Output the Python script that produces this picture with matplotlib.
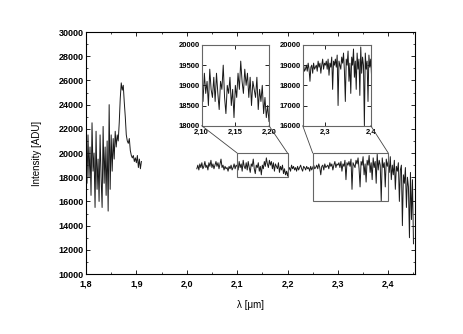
import numpy as np
import matplotlib.pyplot as plt
from matplotlib.patches import Rectangle, ConnectionPatch
from matplotlib.ticker import FuncFormatter, MultipleLocator, FixedLocator

plt.rcParams["font.family"] = ["Liberation Sans", "DejaVu Sans"]
plt.rcParams["font.weight"] = "bold"

# spectrum, first band (1.800 .. 1.910 um, step 0.002)
wl_start_1, wl_step = 1.800, 0.002
intensity_1 = [
    19500, 17500, 21500, 18000, 20500, 16500, 22500, 18500, 20000, 15500,
    21800, 17000, 19500, 16000, 21500, 18000, 15500, 22200, 17500, 20500,
    16500, 21000, 15200, 24000, 17000, 21500, 18500, 21200, 19500, 21800,
    20500, 21500, 21000, 22500, 24500, 25800, 25200, 25600, 24200, 23000,
    21500, 21000, 20800, 21200, 20200, 19800, 19600, 19800, 19300, 19600,
    19200, 19800, 18800, 19500, 18700, 19300,
]

# spectrum, second band (2.020 .. 2.450 um, step 0.002)
wl_start_2 = 2.020
intensity_2 = [
    18700, 19000, 18600, 19100, 18800, 19200, 18700, 18900, 19300, 18800,
    19000, 18600, 19200, 18900, 19400, 18800, 19100, 18700, 19000, 19300,
    18900, 19200, 18700, 19100, 19500, 18800, 19000, 18600, 18900, 18700,
    18800, 18500, 18900, 18700, 19000, 18600, 18800, 19100, 18700, 19000,
    18900, 18600, 19300, 18800, 19100, 18500, 19400, 18900, 18700, 19200,
    18600, 19300, 18800, 18400, 19100, 18900, 19500, 18700, 18300, 19000,
    18800, 19200, 18500, 18900, 18200, 19000, 18700, 19300, 18900, 19600,
    19100, 18800, 19400, 19000, 19300, 18700, 19200, 18500, 19100, 18900,
    18700, 19200, 18400, 18900, 18600, 19000, 18300, 18700, 18200, 18500,
    18100, 18600, 18800, 18500, 19000, 18700, 18900, 18600, 18800, 18500,
    18900, 18600, 18800, 19000, 18700, 18500, 18900, 18800, 18600, 18900,
    18700, 18800, 18500, 18900, 18600, 18800, 19000, 18700, 18800, 19000,
    18700, 19100, 18800, 18200, 18900, 19000, 18600, 19100, 18800, 18900,
    19000, 18700, 19200, 18900, 19100, 18600, 19000, 19300, 18800, 19100,
    19000, 19200, 18800, 19300, 18500, 19100, 18900, 19400, 17800, 19200,
    19000, 19300, 18900, 19500, 17000, 19200, 19000, 18800, 19400, 19100,
    19600, 18700, 17200, 19300, 19000, 19700, 18200, 19100, 17600, 19400,
    19000, 19800, 18400, 19200, 17800, 19600, 18800, 19300, 17500, 19900,
    18600, 19400, 19000, 16000, 19600, 18800, 19200, 17200, 19500, 18900,
    19300, 18400, 19700, 17800, 19000, 18200, 19400, 17000, 18900, 18500,
    19200, 16000, 18600, 19000, 14000, 18200, 17500, 18800, 15500, 18000,
    17200, 13000, 18400, 14500, 17800, 12500,
]

wl_1 = wl_start_1 + wl_step * np.arange(len(intensity_1))
wl_2 = wl_start_2 + wl_step * np.arange(len(intensity_2))

# zoom windows: (x0, x1, y0, y1)
zoom_1 = (2.10, 2.20, 18000, 20000)
zoom_2 = (2.25, 2.40, 16000, 20000)

line_kw = dict(color="#1a1a1a", lw=0.7)


def comma(fmt):
    return FuncFormatter(lambda v, p: (fmt % v).replace(".", ","))


def style(ax, size):
    ax.tick_params(which="both", direction="in", top=True, right=True,
                   labelsize=size, pad=1.5)
    ax.tick_params(which="major", length=3, width=0.6)
    ax.tick_params(which="minor", length=1.5, width=0.5)


fig = plt.figure(figsize=(4.63, 3.34), dpi=100)
ax = fig.add_axes([0.1857, 0.1796, 0.7106, 0.7244])
ax.plot(wl_1, intensity_1, **line_kw)
ax.plot(wl_2, intensity_2, **line_kw)
ax.set_xlim(1.8, 2.453)
ax.set_ylim(10000, 30000)
ax.xaxis.set_major_locator(MultipleLocator(0.1))
ax.xaxis.set_minor_locator(MultipleLocator(0.05))
ax.yaxis.set_major_locator(MultipleLocator(2000))
ax.yaxis.set_minor_locator(MultipleLocator(1000))
ax.xaxis.set_major_formatter(comma("%.1f"))
style(ax, 6.5)
ax.tick_params(axis="x", pad=4)
for s in ax.spines.values():
    s.set_linewidth(0.8)
ax.set_xlabel("λ [μm]", fontsize=7, labelpad=8)
ax.set_ylabel("Intensity [ADU]", fontsize=7, labelpad=12)

ins_1 = fig.add_axes([0.4356, 0.6237, 0.1454, 0.2416])
ins_2 = fig.add_axes([0.6538, 0.6237, 0.1469, 0.2416])

for ins, z in ((ins_1, zoom_1), (ins_2, zoom_2)):
    ins.plot(wl_2, intensity_2, **line_kw)
    ins.set_xlim(z[0], z[1])
    ins.set_ylim(z[2], z[3])
    style(ins, 5.5)
    ins.tick_params(axis="x", pad=2.5)
    for s in ins.spines.values():
        s.set_color("#666666")
        s.set_linewidth(0.8)
    ax.add_patch(Rectangle((z[0], z[2]), z[1] - z[0], z[3] - z[2],
                           fill=False, ec="#666666", lw=0.8, zorder=3))
    for cx in (0, 1):
        con = ConnectionPatch(xyA=(cx, 0), coordsA=ins.transAxes,
                              xyB=(z[cx], z[3]), coordsB=ax.transData,
                              color="#444444", lw=0.6)
        fig.add_artist(con)

ins_1.xaxis.set_major_locator(FixedLocator([2.10, 2.15, 2.20]))
ins_1.xaxis.set_major_formatter(comma("%.2f"))
ins_1.yaxis.set_major_locator(MultipleLocator(500))
ins_2.xaxis.set_major_locator(FixedLocator([2.3, 2.4]))
ins_2.xaxis.set_major_formatter(comma("%.1f"))
ins_2.yaxis.set_major_locator(MultipleLocator(1000))

fig.savefig("out.png", dpi=100)
